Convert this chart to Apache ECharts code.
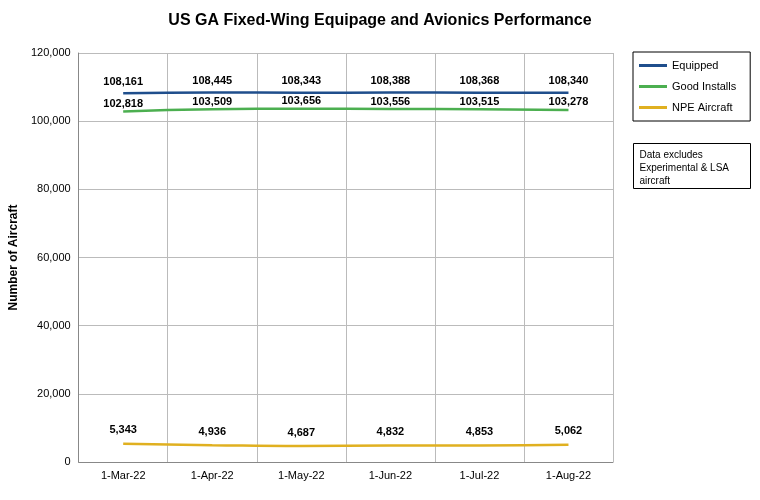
<!DOCTYPE html>
<html><head><meta charset="utf-8">
<script src="https://cdn.jsdelivr.net/npm/echarts@6/dist/echarts.min.js"></script>
</head><body style="margin:0">
<div id="c" style="width:760px;height:500px"></div>
<script>
const categories=['1-Mar-22','1-Apr-22','1-May-22','1-Jun-22','1-Jul-22','1-Aug-22'];
const equipped=[108161,108445,108343,108388,108368,108340];
const goodInstalls=[102818,103509,103656,103556,103515,103278];
const npe=[5343,4936,4687,4832,4853,5062];
const fmt=p=>p.value.toLocaleString('en-US');
const lbl={show:true,position:'top',formatter:fmt,fontWeight:'bold',fontSize:11,color:'#000',fontFamily:'Liberation Sans'};
const chart=echarts.init(document.getElementById('c'));
chart.setOption({
 textStyle:{fontFamily:'Liberation Sans'},
 title:{text:'US GA Fixed-Wing Equipage and Avionics Performance',left:'center',top:8,textStyle:{fontSize:16,fontWeight:'bold',color:'#000'}},
 grid:{left:78,right:147,top:53,bottom:38},
 legend:{orient:'vertical',left:633,top:52,itemWidth:28,itemHeight:3,itemGap:10,padding:[8,14,8,6],borderColor:'#000',borderWidth:1,icon:'rect',
  textStyle:{fontSize:11,color:'#000'},data:['Equipped','Good Installs','NPE Aircraft']},
 graphic:[{type:'group',left:633,top:143,children:[
  {type:'rect',shape:{width:117,height:45},style:{fill:'#fff',stroke:'#000'}},
  {type:'text',left:6,top:5,style:{text:'Data excludes\nExperimental & LSA\naircraft',fontSize:10,lineHeight:13,fill:'#000',fontFamily:'Liberation Sans'}}]}],
 xAxis:{type:'category',data:categories,boundaryGap:true,axisTick:{show:false},
  axisLine:{lineStyle:{color:'#888'}},axisLabel:{color:'#000',fontSize:11},
  splitLine:{show:true,lineStyle:{color:'#bbb'}}},
 yAxis:{type:'value',min:0,max:120000,interval:20000,name:'Number of Aircraft',nameLocation:'middle',nameGap:56,
  nameTextStyle:{fontWeight:'bold',fontSize:12,color:'#000'},
  axisLine:{show:true,lineStyle:{color:'#888'}},axisLabel:{color:'#000',fontSize:11,formatter:v=>v.toLocaleString('en-US')},
  splitLine:{lineStyle:{color:'#bbb'}}},
 series:[
  {name:'Equipped',type:'line',data:equipped,symbol:'circle',symbolSize:0.1,showSymbol:true,smooth:true,lineStyle:{color:'#1f4e8c',width:2.5},itemStyle:{color:'#1f4e8c'},label:Object.assign({},lbl,{distance:6})},
  {name:'Good Installs',type:'line',data:goodInstalls,symbol:'circle',symbolSize:0.1,showSymbol:true,smooth:true,lineStyle:{color:'#4caf50',width:2.5},itemStyle:{color:'#4caf50'},label:Object.assign({},lbl,{distance:2})},
  {name:'NPE Aircraft',type:'line',data:npe,symbol:'circle',symbolSize:0.1,showSymbol:true,smooth:true,lineStyle:{color:'#e0b020',width:2.5},itemStyle:{color:'#e0b020'},label:Object.assign({},lbl,{distance:8})}
 ]
});
</script></body></html>
